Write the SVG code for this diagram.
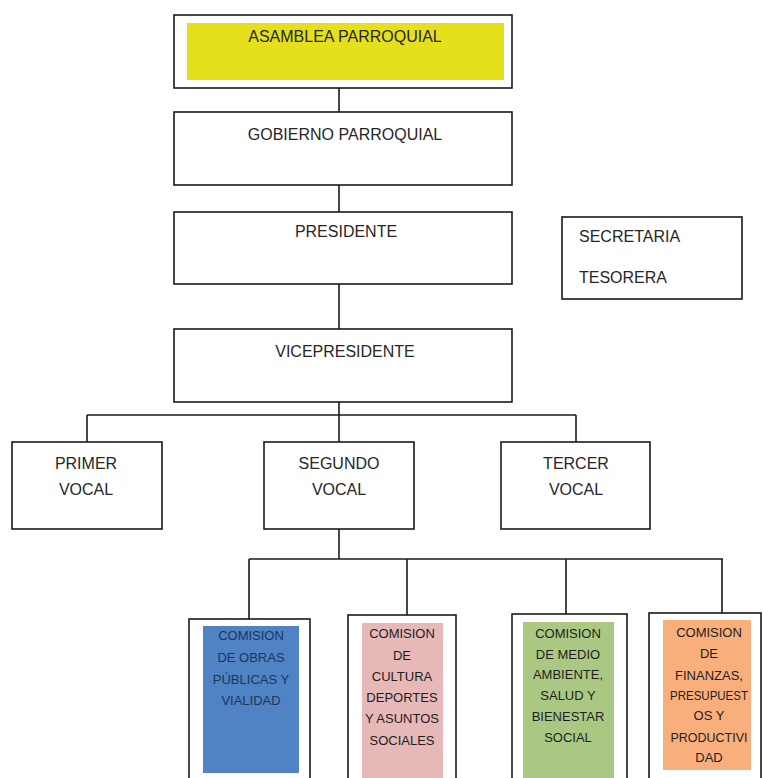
<svg xmlns="http://www.w3.org/2000/svg" width="763" height="778" viewBox="0 0 763 778">
<style>
.box{fill:#fff;stroke:#1a1a1a;stroke-width:1.6}
.t{font-family:"Liberation Sans",Arial,sans-serif;font-size:16px;fill:#262626;text-anchor:middle}
.tl{font-family:"Liberation Sans",Arial,sans-serif;font-size:16px;fill:#262626}
.c{font-family:"Liberation Sans",Arial,sans-serif;font-size:13px;fill:#1e1e1e;text-anchor:middle}
.cb{font-family:"Liberation Sans",Arial,sans-serif;font-size:13px;fill:#1c3560;text-anchor:middle}
.conn line{stroke:#1a1a1a;stroke-width:1.6}
</style>
<rect width="763" height="778" fill="#fff"/>
<g class="conn" id="connectors">
<line x1="339" y1="88" x2="339" y2="112"/>
<line x1="339" y1="185" x2="339" y2="212"/>
<line x1="339" y1="284" x2="339" y2="329"/>
<line x1="339" y1="402" x2="339" y2="442"/>
<line x1="87" y1="415" x2="576" y2="415"/>
<line x1="87" y1="415" x2="87" y2="442"/>
<line x1="576" y1="415" x2="576" y2="442"/>
<line x1="339" y1="529" x2="339" y2="559"/>
<line x1="249" y1="559" x2="723" y2="559"/>
<line x1="249" y1="559" x2="249" y2="619"/>
<line x1="407" y1="559" x2="407" y2="615"/>
<line x1="566" y1="559" x2="566" y2="614"/>
<line x1="722" y1="559" x2="722" y2="613"/>
</g>
<g id="asamblea">
<rect class="box" x="174" y="15" width="338" height="73"/>
<rect x="187" y="23" width="317" height="57" fill="#e6df1c"/>
<text class="t" x="345" y="42">ASAMBLEA PARROQUIAL</text>
</g>
<g id="gobierno">
<rect class="box" x="174" y="112" width="338" height="73"/>
<text class="t" x="345" y="140">GOBIERNO PARROQUIAL</text>
</g>
<g id="presidente">
<rect class="box" x="174" y="212" width="338" height="72"/>
<text class="t" x="346" y="237">PRESIDENTE</text>
</g>
<g id="secretaria">
<rect class="box" x="562" y="217" width="180" height="82"/>
<text class="tl" x="579" y="242">SECRETARIA</text>
<text class="tl" x="579" y="283">TESORERA</text>
</g>
<g id="vicepresidente">
<rect class="box" x="174" y="329" width="338" height="73"/>
<text class="t" x="345" y="357">VICEPRESIDENTE</text>
</g>
<g id="primer">
<rect class="box" x="12" y="442" width="150" height="87"/>
<text class="t" x="86" y="469">PRIMER</text>
<text class="t" x="86" y="495">VOCAL</text>
</g>
<g id="segundo">
<rect class="box" x="264" y="442" width="150" height="87"/>
<text class="t" x="339" y="469">SEGUNDO</text>
<text class="t" x="339" y="495">VOCAL</text>
</g>
<g id="tercer">
<rect class="box" x="501" y="442" width="149" height="87"/>
<text class="t" x="576" y="469">TERCER</text>
<text class="t" x="576" y="495">VOCAL</text>
</g>
<g id="obras">
<rect class="box" x="189" y="619" width="121" height="170"/>
<rect x="203" y="626" width="96" height="147" fill="#4f83c4"/>
<text class="cb" x="251" y="640">COMISION</text>
<text class="cb" x="251" y="662">DE OBRAS</text>
<text class="cb" x="251" y="684">PÚBLICAS Y</text>
<text class="cb" x="251" y="705">VIALIDAD</text>
</g>
<g id="cultura">
<rect class="box" x="348" y="615" width="108" height="174"/>
<rect x="362" y="623" width="81" height="160" fill="#e6b8b7"/>
<text class="c" x="402" y="638">COMISION</text>
<text class="c" x="402" y="660">DE</text>
<text class="c" x="402" y="681">CULTURA</text>
<text class="c" x="402" y="702">DEPORTES</text>
<text class="c" x="402" y="723">Y ASUNTOS</text>
<text class="c" x="402" y="745">SOCIALES</text>
</g>
<g id="ambiente">
<rect class="box" x="512" y="614" width="115" height="175"/>
<rect x="523" y="622" width="91" height="160" fill="#abc883"/>
<text class="c" x="568" y="638">COMISION</text>
<text class="c" x="568" y="659">DE MEDIO</text>
<text class="c" x="568" y="679">AMBIENTE,</text>
<text class="c" x="568" y="700">SALUD Y</text>
<text class="c" x="568" y="721">BIENESTAR</text>
<text class="c" x="568" y="742">SOCIAL</text>
</g>
<g id="finanzas">
<rect class="box" x="649" y="613" width="112" height="176"/>
<rect x="663" y="620" width="88" height="150" fill="#f8af7b"/>
<text class="c" x="709" y="637">COMISION</text>
<text class="c" x="709" y="658">DE</text>
<text class="c" x="709" y="680">FINANZAS,</text>
<text class="c" x="709" y="700" textLength="78" lengthAdjust="spacingAndGlyphs">PRESUPUEST</text>
<text class="c" x="709" y="720">OS Y</text>
<text class="c" x="709" y="742" textLength="77" lengthAdjust="spacingAndGlyphs">PRODUCTIVI</text>
<text class="c" x="709" y="762">DAD</text>
</g>
</svg>
